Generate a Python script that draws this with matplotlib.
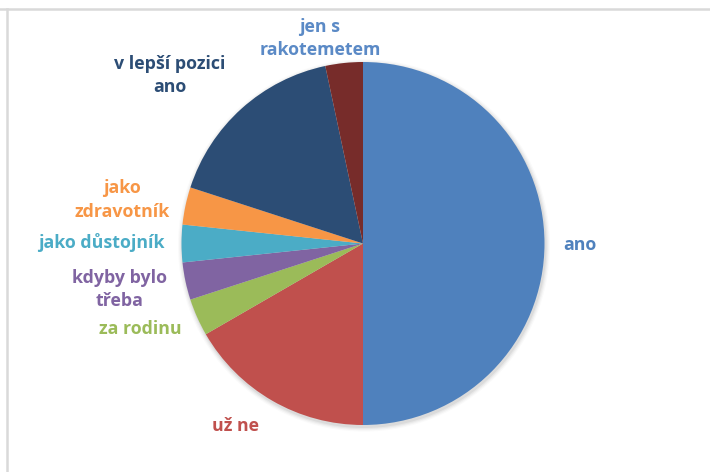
import matplotlib
matplotlib.use("Agg")
import matplotlib.pyplot as plt
from matplotlib.lines import Line2D

categories = ["ano", "už ne", "za rodinu", "kdyby bylo\ntřeba", "jako důstojník",
              "jako\nzdravotník", "v lepší pozici\nano", "jen s\nrakotemetem"]
values = [15, 5, 1, 1, 1, 1, 5, 1]
colors = ["#4F81BD", "#C0504D", "#9BBB59", "#8064A2", "#4BACC6",
          "#F79646", "#2C4D75", "#772C2A"]
label_colors = ["#4F81BD", "#C0504D", "#9BBB59", "#8064A2", "#4BACC6",
                "#F79646", "#2C4D75", "#5B8AC6"]

W, H = 710, 472
fig = plt.figure(figsize=(W / 100, H / 100), dpi=100)
ax = fig.add_axes([0, 0, 1, 1])

cx, cy, r = 363, H - 243.5, 181.5

# soft shadow
for i, a in enumerate([0.05, 0.04, 0.03, 0.02]):
    ax.add_patch(plt.Circle((cx + 1, cy - 2), r + 1 + i * 1.2, color="#000000", alpha=a, lw=0, zorder=0))

ax.pie(values, colors=colors, startangle=90, counterclock=False,
       center=(cx, cy), radius=r, frame=True,
       wedgeprops=dict(linewidth=0), normalize=True)
ax.set_xlim(0, W)
ax.set_ylim(0, H)
ax.set_aspect("equal")
ax.axis("off")

# label positions (pixel coords, top-origin) and alignment
label_pos = [
    (563, 245, "left"),
    (236, 426, "center"),
    (140, 329, "center"),
    (120, 289.5, "center"),
    (101, 243, "center"),
    (122, 200, "center"),
    (170, 75.5, "center"),
    (320, 38.5, "center"),
]
font = ["Open Sans", "DejaVu Sans"]
for lab, col, (x, y, ha) in zip(categories, label_colors, label_pos):
    ax.text(x, H - y, lab, color=col, ha=ha, va="center", fontsize=12.8,
            fontweight="bold", family=font, linespacing=1.4, multialignment="center")

# chart frame lines
fig.add_artist(Line2D([0, 1], [1 - 9 / H, 1 - 9 / H], color="#D9D9D9", lw=1.8, transform=fig.transFigure))
fig.add_artist(Line2D([7 / W, 7 / W], [0, 1 - 9 / H], color="#D9D9D9", lw=1.8, transform=fig.transFigure))

fig.savefig("out.png", dpi=100, facecolor="white")
